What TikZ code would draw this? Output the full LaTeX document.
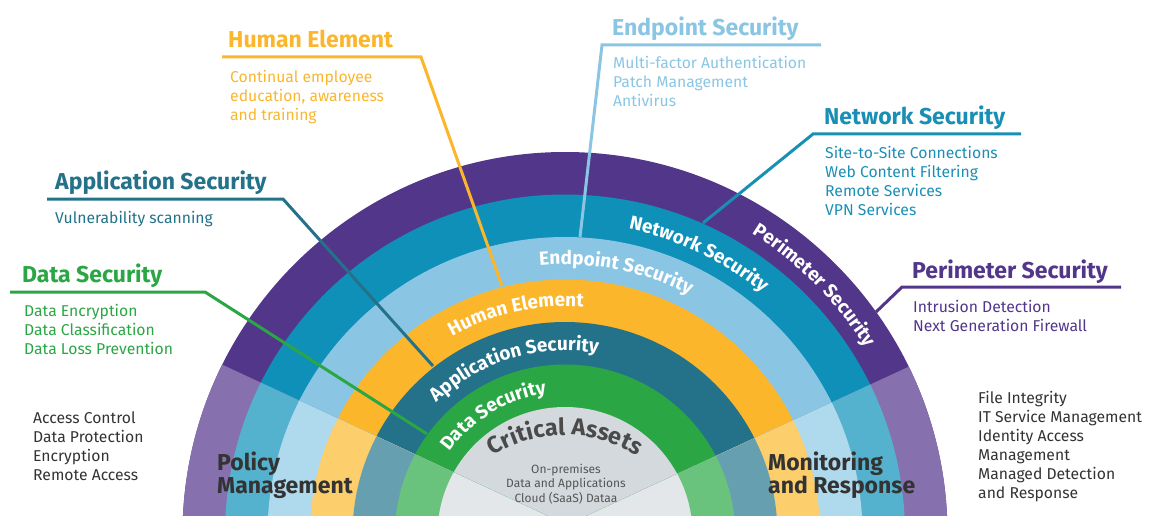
\documentclass[tikz,border=0pt]{standalone}
\usepackage{fontspec}
\setmainfont{Fira Sans}
\usepackage{xcolor}
\usetikzlibrary{positioning}
\usetikzlibrary{calc}
\usetikzlibrary{decorations.text}
\definecolor{perim}{HTML}{52368A}
\definecolor{perimL}{HTML}{8670AD}
\definecolor{netw}{HTML}{0E90B8}
\definecolor{netwL}{HTML}{55B2CF}
\definecolor{netwT}{HTML}{1A8FB5}
\definecolor{endp}{HTML}{8AC6E4}
\definecolor{endpL}{HTML}{AFD9EC}
\definecolor{human}{HTML}{FBB62B}
\definecolor{humanL}{HTML}{FDCE6C}
\definecolor{appl}{HTML}{24728A}
\definecolor{applL}{HTML}{66A0B0}
\definecolor{datas}{HTML}{2AA645}
\definecolor{datasL}{HTML}{6AC37D}
\definecolor{crit}{HTML}{D3D9DD}
\definecolor{critL}{HTML}{E3E7EA}
\definecolor{darktext}{HTML}{333333}
\definecolor{crittext}{HTML}{4A4A4A}
\definecolor{smalltext}{HTML}{555555}
\newcommand\ringfont{\fontsize{19}{21}\selectfont\bfseries}
\newcommand\critfont{\fontsize{23.5}{25}\selectfont\bfseries}

\begin{document}
\begin{tikzpicture}[x=1pt, y=1pt,
	head/.style={anchor=base west, inner sep=0pt, font=\fontsize{23}{25}\selectfont\bfseries},
	body/.style={anchor=base west, inner sep=0pt, align=left, font=\fontsize{15.7}{19}\selectfont},
	zone/.style={anchor=base west, inner sep=0pt, align=left, darktext, font=\fontsize{23}{23}\selectfont\bfseries},
	link/.style={line width=3pt, line join=miter},
	ringlabel/.style={decorate, decoration={text along path, text align=center, text color=white, text={|\ringfont|#1}}}
	]
	\useasboundingbox (0,0) rectangle (1150,515);
	\clip (0,0) rectangle (1150,515);
	\coordinate (C) at (565,-19.5);
	
	%rings
	\fill[perim] (C) circle (382.5);
	\fill[netw] (C) circle (340);
	\fill[endp] (C) circle (297.5);
	\fill[human] (C) circle (255);
	\fill[appl] (C) circle (212.5);
	\fill[datas] (C) circle (170);
	\fill[crit] (C) circle (127.5);
	
	%lighter lower sectors
	\begin{scope}
		\clip (567,-10) -- (-121,310) -- (-121,-60) -- (1249,-60) -- (1249,306) -- cycle;
		\fill[perimL] (C) circle (382.5);
		\fill[netwL] (C) circle (340);
		\fill[endpL] (C) circle (297.5);
		\fill[humanL] (C) circle (255);
		\fill[applL] (C) circle (212.5);
		\fill[datasL] (C) circle (170);
		\fill[critL] (C) circle (127.5);
	\end{scope}
	
	%ring labels
	\path[ringlabel={Data Security}, shift={(C)}] (175:142) arc[start angle=175, end angle=67, radius=142];
	\path[ringlabel={Application Security}, shift={(C)}] (165:184) arc[start angle=165, end angle=49, radius=184];
	\path[ringlabel={Human Element}, shift={(C)}] (145:228) arc[start angle=145, end angle=60, radius=228];
	\path[ringlabel={Endpoint Security}, shift={(C)}] (120:270) arc[start angle=120, end angle=38, radius=270];
	\path[ringlabel={Network Security}, shift={(C)}] (102:312) arc[start angle=102, end angle=27, radius=312];
	\path[ringlabel={Perimeter Security}, shift={(C)}] (84:354) arc[start angle=84, end angle=6, radius=354];
	\path[decorate, decoration={text along path, text align=center, text color=crittext, text={|\critfont|Critical Assets}}, shift={(565,-55)}] (155:135) arc[start angle=155, end angle=25, radius=135];
	\node[anchor=base, inner sep=0pt, align=center, smalltext, font=\fontsize{12}{14.5}\selectfont] (assets) at (566,13) {On-premises\\Data and Applications\\Cloud (SaaS) Dataa};
	
	%zones
	\node[zone] (policy) at (217,22) {Policy\\Management};
	\node[zone] (monitor) at (768,22) {Monitoring\\and Response};
	\node[body, darktext] (policy-list) at (33,35) {Access Control\\Data Protection\\Encryption\\Remote Access};
	\node[body, darktext] (monitor-list) at (978,17) {File Integrity\\IT Service Management\\Identity Access\\Management\\Managed Detection\\and Response};
	
	%headings
	\node[head, human] (hum) at (228,467) {Human Element};
	\node[body, human] (hum-list) at (230,394) {Continual employee\\education, awareness\\and training};
	\node[head, endp] (endpt) at (612,479) {Endpoint Security};
	\node[body, endp] (endpt-list) at (613,408) {Multi-factor Authentication\\Patch Management\\Antivirus};
	\node[head, netwT] (net) at (824,390) {Network Security};
	\node[body, netwT] (net-list) at (825,300) {Site-to-Site Connections\\Web Content Filtering\\Remote Services\\VPN Services};
	\node[head, perim] (per) at (912,237) {Perimeter Security};
	\node[body, perim] (per-list) at (913,184) {Intrusion Detection\\Next Generation Firewall};
	\node[head, appl] (app) at (55,326) {Application Security};
	\node[body, appl] (app-list) at (55,292) {Vulnerability scanning};
	\node[head, datas] (dat) at (22,233) {Data Security};
	\node[body, datas] (dat-list) at (24,161) {Data Encryption\\Data Classification\\Data Loss Prevention};
	
	%draw links
	\coordinate (hum-a) at (222,458); \coordinate (hum-b) at (421,458); \coordinate (hum-c) at (502,229);
	\coordinate (endpt-a) at (821,470); \coordinate (endpt-b) at (602,470); \coordinate (endpt-c) at (580,278);
	\coordinate (net-a) at (1021,381); \coordinate (net-b) at (813,381); \coordinate (net-c) at (703,292);
	\coordinate (per-a) at (1121,228); \coordinate (per-b) at (902,228); \coordinate (per-c) at (876,203);
	\coordinate (app-a) at (47,316); \coordinate (app-b) at (283,316); \coordinate (app-c) at (433,149);
	\coordinate (dat-a) at (10,223); \coordinate (dat-b) at (205,223); \coordinate (dat-c) at (427,81);
	\draw[link, human] (hum-a) -- (hum-b) -- (hum-c);
	\draw[link, endp] (endpt-a) -- (endpt-b) -- (endpt-c);
	\draw[link, netwT] (net-a) -- (net-b) -- (net-c);
	\draw[link, perim] (per-a) -- (per-b) -- (per-c);
	\draw[link, appl] (app-a) -- (app-b) -- (app-c);
	\draw[link, datas] (dat-a) -- (dat-b) -- (dat-c);
\end{tikzpicture}
\end{document}
